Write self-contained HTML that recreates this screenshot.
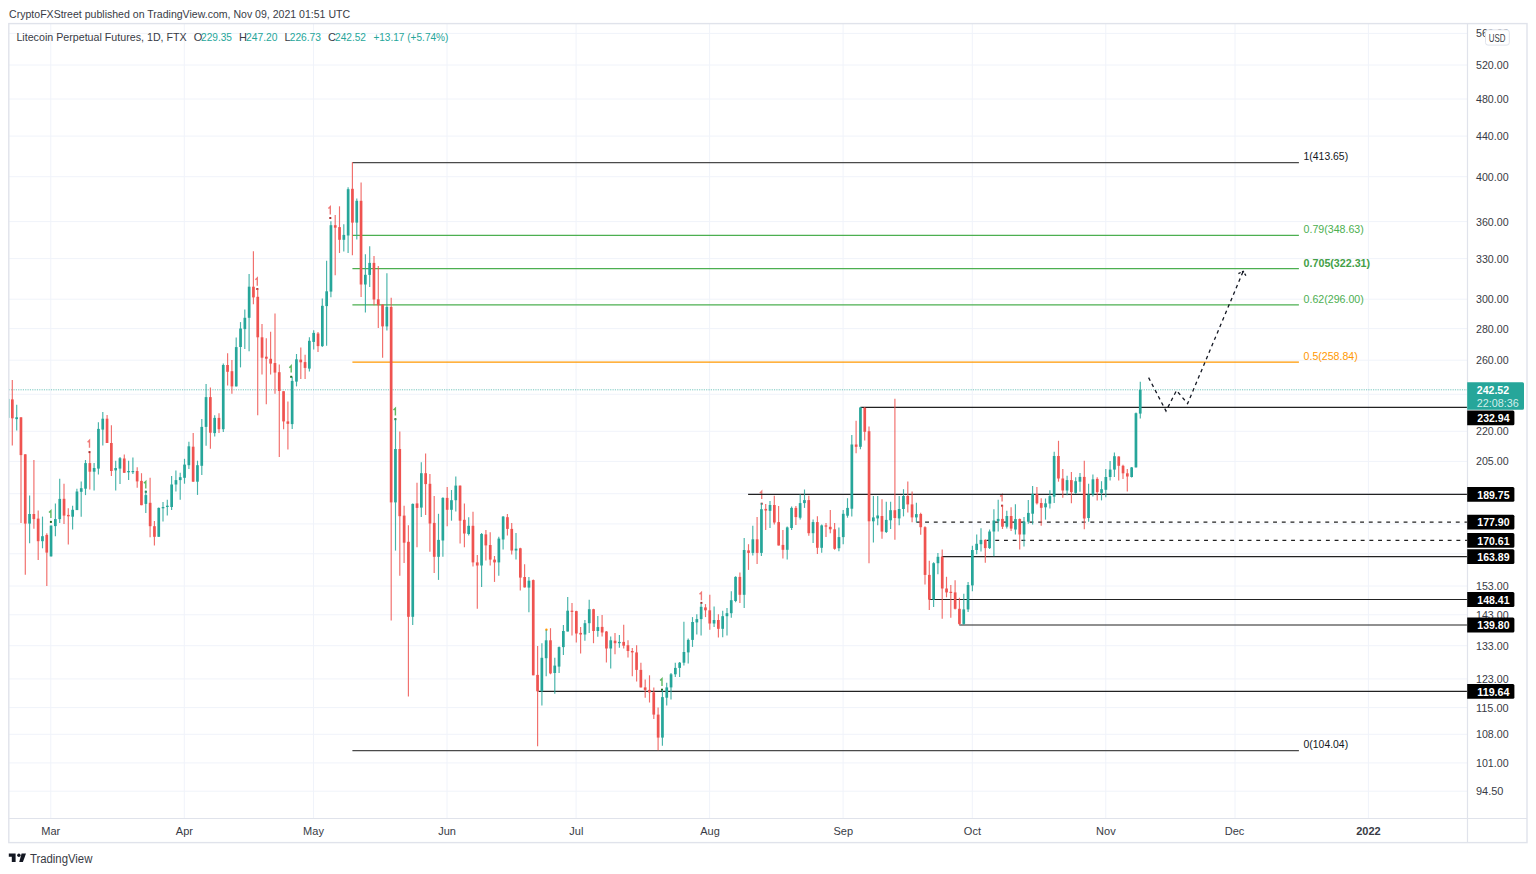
<!DOCTYPE html>
<html><head><meta charset="utf-8"><style>
html,body{margin:0;padding:0;background:#fff;width:1536px;height:874px;overflow:hidden;position:relative;font-family:"Liberation Sans", sans-serif;}
</style></head><body>
<svg width="1536" height="874" style="position:absolute;left:0;top:0" font-family='"Liberation Sans", sans-serif'><line x1="8.8" y1="33.4" x2="1467.5" y2="33.4" stroke="#f0f3fa" stroke-width="1"/><line x1="8.8" y1="65.0" x2="1467.5" y2="65.0" stroke="#f0f3fa" stroke-width="1"/><line x1="8.8" y1="99.0" x2="1467.5" y2="99.0" stroke="#f0f3fa" stroke-width="1"/><line x1="8.8" y1="136.1" x2="1467.5" y2="136.1" stroke="#f0f3fa" stroke-width="1"/><line x1="8.8" y1="176.7" x2="1467.5" y2="176.7" stroke="#f0f3fa" stroke-width="1"/><line x1="8.8" y1="221.6" x2="1467.5" y2="221.6" stroke="#f0f3fa" stroke-width="1"/><line x1="8.8" y1="258.6" x2="1467.5" y2="258.6" stroke="#f0f3fa" stroke-width="1"/><line x1="8.8" y1="299.2" x2="1467.5" y2="299.2" stroke="#f0f3fa" stroke-width="1"/><line x1="8.8" y1="328.6" x2="1467.5" y2="328.6" stroke="#f0f3fa" stroke-width="1"/><line x1="8.8" y1="360.2" x2="1467.5" y2="360.2" stroke="#f0f3fa" stroke-width="1"/><line x1="8.8" y1="394.3" x2="1467.5" y2="394.3" stroke="#f0f3fa" stroke-width="1"/><line x1="8.8" y1="431.3" x2="1467.5" y2="431.3" stroke="#f0f3fa" stroke-width="1"/><line x1="8.8" y1="461.4" x2="1467.5" y2="461.4" stroke="#f0f3fa" stroke-width="1"/><line x1="8.8" y1="493.7" x2="1467.5" y2="493.7" stroke="#f0f3fa" stroke-width="1"/><line x1="8.8" y1="523.9" x2="1467.5" y2="523.9" stroke="#f0f3fa" stroke-width="1"/><line x1="8.8" y1="553.8" x2="1467.5" y2="553.8" stroke="#f0f3fa" stroke-width="1"/><line x1="8.8" y1="586.0" x2="1467.5" y2="586.0" stroke="#f0f3fa" stroke-width="1"/><line x1="8.8" y1="614.8" x2="1467.5" y2="614.8" stroke="#f0f3fa" stroke-width="1"/><line x1="8.8" y1="645.7" x2="1467.5" y2="645.7" stroke="#f0f3fa" stroke-width="1"/><line x1="8.8" y1="678.9" x2="1467.5" y2="678.9" stroke="#f0f3fa" stroke-width="1"/><line x1="8.8" y1="707.6" x2="1467.5" y2="707.6" stroke="#f0f3fa" stroke-width="1"/><line x1="8.8" y1="734.3" x2="1467.5" y2="734.3" stroke="#f0f3fa" stroke-width="1"/><line x1="8.8" y1="762.9" x2="1467.5" y2="762.9" stroke="#f0f3fa" stroke-width="1"/><line x1="8.8" y1="791.2" x2="1467.5" y2="791.2" stroke="#f0f3fa" stroke-width="1"/><line x1="50.8" y1="23.6" x2="50.8" y2="818.5" stroke="#f0f3fa" stroke-width="1"/><line x1="184.3" y1="23.6" x2="184.3" y2="818.5" stroke="#f0f3fa" stroke-width="1"/><line x1="313.5" y1="23.6" x2="313.5" y2="818.5" stroke="#f0f3fa" stroke-width="1"/><line x1="447.0" y1="23.6" x2="447.0" y2="818.5" stroke="#f0f3fa" stroke-width="1"/><line x1="576.1" y1="23.6" x2="576.1" y2="818.5" stroke="#f0f3fa" stroke-width="1"/><line x1="709.6" y1="23.6" x2="709.6" y2="818.5" stroke="#f0f3fa" stroke-width="1"/><line x1="843.1" y1="23.6" x2="843.1" y2="818.5" stroke="#f0f3fa" stroke-width="1"/><line x1="972.3" y1="23.6" x2="972.3" y2="818.5" stroke="#f0f3fa" stroke-width="1"/><line x1="1105.8" y1="23.6" x2="1105.8" y2="818.5" stroke="#f0f3fa" stroke-width="1"/><line x1="1235.0" y1="23.6" x2="1235.0" y2="818.5" stroke="#f0f3fa" stroke-width="1"/><line x1="1368.4" y1="23.6" x2="1368.4" y2="818.5" stroke="#f0f3fa" stroke-width="1"/><line x1="8.8" y1="389.8" x2="1467.5" y2="389.8" stroke="#26a69a" stroke-width="1" stroke-dasharray="1.17 1.17" stroke-opacity="0.65"/><path d="M87.6 442.2 L89.5 440.3 V447.7" fill="none" stroke="#f07a78" stroke-width="1.4"/><rect x="88.5" y="451.1" width="2" height="2" fill="#a82a2a"/><path d="M255.4 279.8 L257.3 277.9 V285.7" fill="none" stroke="#f07a78" stroke-width="1.4"/><rect x="256.3" y="288.0" width="2" height="2" fill="#a82a2a"/><path d="M328.4 208.6 L330.3 206.7 V214.5" fill="none" stroke="#f07a78" stroke-width="1.4"/><rect x="329.3" y="217.0" width="2" height="2" fill="#a82a2a"/><path d="M699.5 594.3 L701.4 592.4 V600.2" fill="none" stroke="#f07a78" stroke-width="1.4"/><rect x="700.4" y="601.9" width="2" height="2" fill="#a82a2a"/><path d="M759.8 493.2 L761.7 491.3 V499.1" fill="none" stroke="#f07a78" stroke-width="1.4"/><rect x="760.7" y="502.7" width="2" height="2" fill="#a82a2a"/><path d="M1000.2 496.5 L1002.1 494.6 V501.5" fill="none" stroke="#f07a78" stroke-width="1.4"/><rect x="1001.1" y="504.7" width="2" height="2" fill="#a82a2a"/><path d="M49.0 512.6 L50.9 510.7 V518.1" fill="none" stroke="#5cb860" stroke-width="1.4"/><rect x="49.9" y="520.9" width="2" height="2" fill="#1b6b1f"/><path d="M143.9 483.3 L145.8 481.4 V488.5" fill="none" stroke="#5cb860" stroke-width="1.4"/><rect x="144.8" y="490.8" width="2" height="2" fill="#1b6b1f"/><path d="M289.3 367.7 L291.2 365.8 V372.6" fill="none" stroke="#5cb860" stroke-width="1.4"/><rect x="290.2" y="375.8" width="2" height="2" fill="#1b6b1f"/><path d="M393.5 410.1 L395.4 408.2 V415.5" fill="none" stroke="#5cb860" stroke-width="1.4"/><rect x="394.4" y="418.2" width="2" height="2" fill="#1b6b1f"/><path d="M660.1 680.5 L662.0 678.6 V686.0" fill="none" stroke="#5cb860" stroke-width="1.4"/><rect x="661.0" y="688.7" width="2" height="2" fill="#1b6b1f"/><circle cx="546.4" cy="629.8" r="1.2" fill="#ff9800"/><line x1="352.4" y1="162.55" x2="1298.9" y2="162.55" stroke="#4a4a4a" stroke-width="1.2"/><text x="1303.6" y="160.4" font-size="11" fill="#131722" textLength="44.5" lengthAdjust="spacingAndGlyphs">1(413.65)</text><line x1="352.4" y1="235.40" x2="1298.9" y2="235.40" stroke="#4caf50" stroke-width="1.2"/><text x="1303.6" y="233.2" font-size="11" fill="#4caf50" textLength="60.2" lengthAdjust="spacingAndGlyphs">0.79(348.63)</text><line x1="352.4" y1="268.66" x2="1298.9" y2="268.66" stroke="#4caf50" stroke-width="1.2"/><text x="1303.6" y="266.5" font-size="11" fill="#43a047" textLength="66.5" lengthAdjust="spacingAndGlyphs" font-weight="bold">0.705(322.31)</text><line x1="352.4" y1="304.93" x2="1298.9" y2="304.93" stroke="#4caf50" stroke-width="1.2"/><text x="1303.6" y="302.7" font-size="11" fill="#4caf50" textLength="60.2" lengthAdjust="spacingAndGlyphs">0.62(296.00)</text><line x1="352.4" y1="362.07" x2="1298.9" y2="362.07" stroke="#ff9800" stroke-width="1.2"/><text x="1303.6" y="359.9" font-size="11" fill="#ff9800" textLength="54.1" lengthAdjust="spacingAndGlyphs">0.5(258.84)</text><line x1="352.4" y1="750.55" x2="1298.9" y2="750.55" stroke="#4a4a4a" stroke-width="1.2"/><text x="1303.6" y="748.3" font-size="11" fill="#131722" textLength="44.5" lengthAdjust="spacingAndGlyphs">0(104.04)</text><line x1="860.4" y1="407.3" x2="1467.5" y2="407.3" stroke="#222" stroke-width="1.2"/><line x1="748.1" y1="494.4" x2="1467.5" y2="494.4" stroke="#222" stroke-width="1.2"/><line x1="916.4" y1="522.1" x2="1467.5" y2="522.1" stroke="#222" stroke-width="1.2" stroke-dasharray="3.9 4.8"/><line x1="986.6" y1="540.4" x2="1467.5" y2="540.4" stroke="#222" stroke-width="1.2" stroke-dasharray="3.9 4.8"/><line x1="941.8" y1="556.7" x2="1467.5" y2="556.7" stroke="#222" stroke-width="1.2"/><line x1="929.0" y1="599.5" x2="1467.5" y2="599.5" stroke="#222" stroke-width="1.2"/><line x1="959.3" y1="625.0" x2="1467.5" y2="625.0" stroke="#222" stroke-width="1.2"/><line x1="538.5" y1="691.4" x2="1467.5" y2="691.4" stroke="#222" stroke-width="1.2"/><polyline points="1148.6,377.6 1166.0,411.0 1176.5,390.5 1187.6,403.6 1243.2,271.3" fill="none" stroke="#131722" stroke-width="1.3" stroke-dasharray="3.5 3.5"/><polyline points="1238.4,273.6 1243.2,271.3 1246.6,276.8" fill="none" stroke="#131722" stroke-width="1.3" stroke-dasharray="2.5 1.5"/><rect x="8.6" y="398.9" width="1.3" height="19" fill="#26a69a" fill-opacity="0.6"/><line x1="12.3" y1="380.0" x2="12.3" y2="445.5" stroke="#ef5350" stroke-width="1.15" stroke-opacity="0.85"/><rect x="11.0" y="399.4" width="2.7" height="18.9" fill="#ef5350"/><line x1="16.7" y1="404.7" x2="16.7" y2="430.4" stroke="#26a69a" stroke-width="1.15" stroke-opacity="0.85"/><rect x="15.3" y="417.3" width="2.7" height="1.8" fill="#26a69a"/><line x1="21.0" y1="417.3" x2="21.0" y2="523.1" stroke="#ef5350" stroke-width="1.15" stroke-opacity="0.85"/><rect x="19.6" y="417.3" width="2.7" height="37.8" fill="#ef5350"/><line x1="25.3" y1="454.3" x2="25.3" y2="574.7" stroke="#ef5350" stroke-width="1.15" stroke-opacity="0.85"/><rect x="23.9" y="454.3" width="2.7" height="69.3" fill="#ef5350"/><line x1="29.6" y1="495.4" x2="29.6" y2="543.3" stroke="#26a69a" stroke-width="1.15" stroke-opacity="0.85"/><rect x="28.2" y="514.0" width="2.7" height="9.6" fill="#26a69a"/><line x1="33.9" y1="460.1" x2="33.9" y2="528.7" stroke="#ef5350" stroke-width="1.15" stroke-opacity="0.85"/><rect x="32.5" y="514.0" width="2.7" height="5.1" fill="#ef5350"/><line x1="38.2" y1="510.5" x2="38.2" y2="560.1" stroke="#ef5350" stroke-width="1.15" stroke-opacity="0.85"/><rect x="36.8" y="518.6" width="2.7" height="22.6" fill="#ef5350"/><line x1="42.5" y1="516.6" x2="42.5" y2="548.3" stroke="#26a69a" stroke-width="1.15" stroke-opacity="0.85"/><rect x="41.1" y="536.2" width="2.7" height="5.0" fill="#26a69a"/><line x1="46.8" y1="533.2" x2="46.8" y2="586.1" stroke="#ef5350" stroke-width="1.15" stroke-opacity="0.85"/><rect x="45.4" y="534.9" width="2.7" height="17.7" fill="#ef5350"/><line x1="51.1" y1="525.6" x2="51.1" y2="556.4" stroke="#26a69a" stroke-width="1.15" stroke-opacity="0.85"/><rect x="49.7" y="525.6" width="2.7" height="30.8" fill="#26a69a"/><line x1="55.4" y1="503.5" x2="55.4" y2="536.2" stroke="#26a69a" stroke-width="1.15" stroke-opacity="0.85"/><rect x="54.0" y="519.1" width="2.7" height="7.0" fill="#26a69a"/><line x1="59.7" y1="478.8" x2="59.7" y2="523.1" stroke="#26a69a" stroke-width="1.15" stroke-opacity="0.85"/><rect x="58.4" y="498.9" width="2.7" height="20.2" fill="#26a69a"/><line x1="64.0" y1="483.8" x2="64.0" y2="524.0" stroke="#ef5350" stroke-width="1.15" stroke-opacity="0.85"/><rect x="62.7" y="498.8" width="2.7" height="16.8" fill="#ef5350"/><line x1="68.3" y1="508.3" x2="68.3" y2="544.5" stroke="#ef5350" stroke-width="1.15" stroke-opacity="0.85"/><rect x="67.0" y="514.9" width="2.7" height="1.4" fill="#ef5350"/><line x1="72.6" y1="505.7" x2="72.6" y2="529.5" stroke="#26a69a" stroke-width="1.15" stroke-opacity="0.85"/><rect x="71.3" y="509.8" width="2.7" height="6.9" fill="#26a69a"/><line x1="76.9" y1="488.7" x2="76.9" y2="510.1" stroke="#26a69a" stroke-width="1.15" stroke-opacity="0.85"/><rect x="75.6" y="491.5" width="2.7" height="18.6" fill="#26a69a"/><line x1="81.2" y1="481.4" x2="81.2" y2="516.7" stroke="#26a69a" stroke-width="1.15" stroke-opacity="0.85"/><rect x="79.9" y="488.2" width="2.7" height="3.6" fill="#26a69a"/><line x1="85.5" y1="460.0" x2="85.5" y2="495.1" stroke="#26a69a" stroke-width="1.15" stroke-opacity="0.85"/><rect x="84.2" y="463.1" width="2.7" height="25.6" fill="#26a69a"/><line x1="89.8" y1="453.0" x2="89.8" y2="489.6" stroke="#ef5350" stroke-width="1.15" stroke-opacity="0.85"/><rect x="88.5" y="463.1" width="2.7" height="8.6" fill="#ef5350"/><line x1="94.1" y1="463.1" x2="94.1" y2="490.5" stroke="#26a69a" stroke-width="1.15" stroke-opacity="0.85"/><rect x="92.8" y="468.0" width="2.7" height="3.7" fill="#26a69a"/><line x1="98.4" y1="422.3" x2="98.4" y2="474.6" stroke="#26a69a" stroke-width="1.15" stroke-opacity="0.85"/><rect x="97.1" y="428.9" width="2.7" height="39.7" fill="#26a69a"/><line x1="102.8" y1="411.9" x2="102.8" y2="445.4" stroke="#26a69a" stroke-width="1.15" stroke-opacity="0.85"/><rect x="101.4" y="418.7" width="2.7" height="10.9" fill="#26a69a"/><line x1="107.1" y1="415.0" x2="107.1" y2="443.0" stroke="#ef5350" stroke-width="1.15" stroke-opacity="0.85"/><rect x="105.7" y="418.7" width="2.7" height="24.3" fill="#ef5350"/><line x1="111.4" y1="425.2" x2="111.4" y2="475.9" stroke="#ef5350" stroke-width="1.15" stroke-opacity="0.85"/><rect x="110.0" y="443.0" width="2.7" height="28.0" fill="#ef5350"/><line x1="115.7" y1="460.7" x2="115.7" y2="490.5" stroke="#26a69a" stroke-width="1.15" stroke-opacity="0.85"/><rect x="114.3" y="468.0" width="2.7" height="2.4" fill="#26a69a"/><line x1="120.0" y1="457.1" x2="120.0" y2="484.1" stroke="#26a69a" stroke-width="1.15" stroke-opacity="0.85"/><rect x="118.6" y="458.2" width="2.7" height="10.4" fill="#26a69a"/><line x1="124.3" y1="454.5" x2="124.3" y2="472.8" stroke="#ef5350" stroke-width="1.15" stroke-opacity="0.85"/><rect x="122.9" y="458.5" width="2.7" height="14.3" fill="#ef5350"/><line x1="128.6" y1="460.7" x2="128.6" y2="480.1" stroke="#26a69a" stroke-width="1.15" stroke-opacity="0.85"/><rect x="127.2" y="471.0" width="2.7" height="1.3" fill="#26a69a"/><line x1="132.9" y1="457.6" x2="132.9" y2="474.1" stroke="#26a69a" stroke-width="1.15" stroke-opacity="0.85"/><rect x="131.5" y="471.0" width="2.7" height="1.2" fill="#26a69a"/><line x1="137.2" y1="467.3" x2="137.2" y2="487.8" stroke="#ef5350" stroke-width="1.15" stroke-opacity="0.85"/><rect x="135.8" y="471.0" width="2.7" height="10.4" fill="#ef5350"/><line x1="141.5" y1="473.2" x2="141.5" y2="505.2" stroke="#ef5350" stroke-width="1.15" stroke-opacity="0.85"/><rect x="140.1" y="480.9" width="2.7" height="24.3" fill="#ef5350"/><line x1="145.8" y1="490.5" x2="145.8" y2="513.0" stroke="#26a69a" stroke-width="1.15" stroke-opacity="0.85"/><rect x="144.5" y="495.1" width="2.7" height="8.8" fill="#26a69a"/><line x1="150.1" y1="477.7" x2="150.1" y2="537.2" stroke="#ef5350" stroke-width="1.15" stroke-opacity="0.85"/><rect x="148.8" y="502.8" width="2.7" height="23.4" fill="#ef5350"/><line x1="154.4" y1="521.1" x2="154.4" y2="545.4" stroke="#ef5350" stroke-width="1.15" stroke-opacity="0.85"/><rect x="153.1" y="526.2" width="2.7" height="10.6" fill="#ef5350"/><line x1="158.7" y1="507.6" x2="158.7" y2="536.8" stroke="#26a69a" stroke-width="1.15" stroke-opacity="0.85"/><rect x="157.4" y="507.9" width="2.7" height="28.9" fill="#26a69a"/><line x1="163.0" y1="502.1" x2="163.0" y2="521.6" stroke="#26a69a" stroke-width="1.15" stroke-opacity="0.85"/><rect x="161.7" y="507.0" width="2.7" height="1.3" fill="#26a69a"/><line x1="167.3" y1="499.7" x2="167.3" y2="515.6" stroke="#26a69a" stroke-width="1.15" stroke-opacity="0.85"/><rect x="166.0" y="505.7" width="2.7" height="1.3" fill="#26a69a"/><line x1="171.6" y1="475.9" x2="171.6" y2="510.1" stroke="#26a69a" stroke-width="1.15" stroke-opacity="0.85"/><rect x="170.3" y="484.5" width="2.7" height="22.5" fill="#26a69a"/><line x1="175.9" y1="470.4" x2="175.9" y2="491.5" stroke="#26a69a" stroke-width="1.15" stroke-opacity="0.85"/><rect x="174.6" y="480.1" width="2.7" height="4.4" fill="#26a69a"/><line x1="180.2" y1="472.8" x2="180.2" y2="499.7" stroke="#26a69a" stroke-width="1.15" stroke-opacity="0.85"/><rect x="178.9" y="477.2" width="2.7" height="2.9" fill="#26a69a"/><line x1="184.5" y1="458.8" x2="184.5" y2="483.7" stroke="#26a69a" stroke-width="1.15" stroke-opacity="0.85"/><rect x="183.2" y="464.6" width="2.7" height="13.2" fill="#26a69a"/><line x1="188.9" y1="441.8" x2="188.9" y2="469.1" stroke="#26a69a" stroke-width="1.15" stroke-opacity="0.85"/><rect x="187.5" y="446.3" width="2.7" height="18.9" fill="#26a69a"/><line x1="193.2" y1="433.1" x2="193.2" y2="481.7" stroke="#ef5350" stroke-width="1.15" stroke-opacity="0.85"/><rect x="191.8" y="446.7" width="2.7" height="35.0" fill="#ef5350"/><line x1="197.5" y1="460.7" x2="197.5" y2="494.9" stroke="#26a69a" stroke-width="1.15" stroke-opacity="0.85"/><rect x="196.1" y="465.2" width="2.7" height="16.5" fill="#26a69a"/><line x1="201.8" y1="419.1" x2="201.8" y2="474.9" stroke="#26a69a" stroke-width="1.15" stroke-opacity="0.85"/><rect x="200.4" y="426.9" width="2.7" height="38.9" fill="#26a69a"/><line x1="206.1" y1="384.1" x2="206.1" y2="445.7" stroke="#26a69a" stroke-width="1.15" stroke-opacity="0.85"/><rect x="204.7" y="397.1" width="2.7" height="29.8" fill="#26a69a"/><line x1="210.4" y1="387.4" x2="210.4" y2="448.7" stroke="#ef5350" stroke-width="1.15" stroke-opacity="0.85"/><rect x="209.0" y="397.1" width="2.7" height="35.6" fill="#ef5350"/><line x1="214.7" y1="415.2" x2="214.7" y2="436.6" stroke="#26a69a" stroke-width="1.15" stroke-opacity="0.85"/><rect x="213.3" y="417.9" width="2.7" height="15.2" fill="#26a69a"/><line x1="219.0" y1="413.3" x2="219.0" y2="433.1" stroke="#ef5350" stroke-width="1.15" stroke-opacity="0.85"/><rect x="217.6" y="417.9" width="2.7" height="11.3" fill="#ef5350"/><line x1="223.3" y1="363.5" x2="223.3" y2="432.1" stroke="#26a69a" stroke-width="1.15" stroke-opacity="0.85"/><rect x="221.9" y="365.0" width="2.7" height="64.2" fill="#26a69a"/><line x1="227.6" y1="353.3" x2="227.6" y2="385.4" stroke="#ef5350" stroke-width="1.15" stroke-opacity="0.85"/><rect x="226.2" y="365.0" width="2.7" height="6.8" fill="#ef5350"/><line x1="231.9" y1="360.1" x2="231.9" y2="393.8" stroke="#ef5350" stroke-width="1.15" stroke-opacity="0.85"/><rect x="230.6" y="371.2" width="2.7" height="15.2" fill="#ef5350"/><line x1="236.2" y1="337.4" x2="236.2" y2="386.4" stroke="#26a69a" stroke-width="1.15" stroke-opacity="0.85"/><rect x="234.9" y="347.1" width="2.7" height="39.3" fill="#26a69a"/><line x1="240.5" y1="322.1" x2="240.5" y2="367.4" stroke="#26a69a" stroke-width="1.15" stroke-opacity="0.85"/><rect x="239.2" y="328.5" width="2.7" height="18.5" fill="#26a69a"/><line x1="244.8" y1="309.6" x2="244.8" y2="348.9" stroke="#26a69a" stroke-width="1.15" stroke-opacity="0.85"/><rect x="243.5" y="317.8" width="2.7" height="11.3" fill="#26a69a"/><line x1="249.1" y1="274.0" x2="249.1" y2="351.3" stroke="#26a69a" stroke-width="1.15" stroke-opacity="0.85"/><rect x="247.8" y="286.7" width="2.7" height="31.1" fill="#26a69a"/><line x1="253.4" y1="251.3" x2="253.4" y2="304.2" stroke="#ef5350" stroke-width="1.15" stroke-opacity="0.85"/><rect x="252.1" y="286.7" width="2.7" height="10.7" fill="#ef5350"/><line x1="257.7" y1="288.6" x2="257.7" y2="415.2" stroke="#ef5350" stroke-width="1.15" stroke-opacity="0.85"/><rect x="256.4" y="296.8" width="2.7" height="40.5" fill="#ef5350"/><line x1="262.0" y1="324.0" x2="262.0" y2="374.5" stroke="#ef5350" stroke-width="1.15" stroke-opacity="0.85"/><rect x="260.7" y="337.3" width="2.7" height="20.4" fill="#ef5350"/><line x1="266.3" y1="338.2" x2="266.3" y2="404.3" stroke="#ef5350" stroke-width="1.15" stroke-opacity="0.85"/><rect x="265.0" y="356.7" width="2.7" height="2.0" fill="#ef5350"/><line x1="270.6" y1="331.8" x2="270.6" y2="374.5" stroke="#ef5350" stroke-width="1.15" stroke-opacity="0.85"/><rect x="269.3" y="358.8" width="2.7" height="4.8" fill="#ef5350"/><line x1="275.0" y1="313.5" x2="275.0" y2="393.8" stroke="#ef5350" stroke-width="1.15" stroke-opacity="0.85"/><rect x="273.6" y="363.0" width="2.7" height="9.6" fill="#ef5350"/><line x1="279.3" y1="364.4" x2="279.3" y2="457.1" stroke="#ef5350" stroke-width="1.15" stroke-opacity="0.85"/><rect x="277.9" y="372.2" width="2.7" height="18.8" fill="#ef5350"/><line x1="283.6" y1="391.2" x2="283.6" y2="429.3" stroke="#ef5350" stroke-width="1.15" stroke-opacity="0.85"/><rect x="282.2" y="391.2" width="2.7" height="30.2" fill="#ef5350"/><line x1="287.9" y1="401.5" x2="287.9" y2="449.5" stroke="#ef5350" stroke-width="1.15" stroke-opacity="0.85"/><rect x="286.5" y="421.4" width="2.7" height="2.4" fill="#ef5350"/><line x1="292.2" y1="376.8" x2="292.2" y2="428.9" stroke="#26a69a" stroke-width="1.15" stroke-opacity="0.85"/><rect x="290.8" y="380.9" width="2.7" height="43.2" fill="#26a69a"/><line x1="296.5" y1="354.0" x2="296.5" y2="386.4" stroke="#26a69a" stroke-width="1.15" stroke-opacity="0.85"/><rect x="295.1" y="359.3" width="2.7" height="22.3" fill="#26a69a"/><line x1="300.8" y1="347.4" x2="300.8" y2="378.9" stroke="#ef5350" stroke-width="1.15" stroke-opacity="0.85"/><rect x="299.4" y="359.6" width="2.7" height="2.7" fill="#ef5350"/><line x1="305.1" y1="354.8" x2="305.1" y2="378.9" stroke="#ef5350" stroke-width="1.15" stroke-opacity="0.85"/><rect x="303.7" y="362.1" width="2.7" height="5.8" fill="#ef5350"/><line x1="309.4" y1="337.3" x2="309.4" y2="371.5" stroke="#26a69a" stroke-width="1.15" stroke-opacity="0.85"/><rect x="308.0" y="340.8" width="2.7" height="27.8" fill="#26a69a"/><line x1="313.7" y1="330.2" x2="313.7" y2="349.6" stroke="#26a69a" stroke-width="1.15" stroke-opacity="0.85"/><rect x="312.3" y="332.9" width="2.7" height="9.0" fill="#26a69a"/><line x1="318.0" y1="332.1" x2="318.0" y2="352.0" stroke="#ef5350" stroke-width="1.15" stroke-opacity="0.85"/><rect x="316.7" y="333.5" width="2.7" height="12.6" fill="#ef5350"/><line x1="322.3" y1="298.5" x2="322.3" y2="347.1" stroke="#26a69a" stroke-width="1.15" stroke-opacity="0.85"/><rect x="321.0" y="305.8" width="2.7" height="40.3" fill="#26a69a"/><line x1="326.6" y1="260.8" x2="326.6" y2="345.7" stroke="#26a69a" stroke-width="1.15" stroke-opacity="0.85"/><rect x="325.3" y="291.3" width="2.7" height="14.8" fill="#26a69a"/><line x1="330.9" y1="221.3" x2="330.9" y2="297.3" stroke="#26a69a" stroke-width="1.15" stroke-opacity="0.85"/><rect x="329.6" y="225.2" width="2.7" height="66.4" fill="#26a69a"/><line x1="335.2" y1="214.9" x2="335.2" y2="275.2" stroke="#ef5350" stroke-width="1.15" stroke-opacity="0.85"/><rect x="333.9" y="225.2" width="2.7" height="2.5" fill="#ef5350"/><line x1="339.5" y1="206.3" x2="339.5" y2="253.0" stroke="#ef5350" stroke-width="1.15" stroke-opacity="0.85"/><rect x="338.2" y="227.1" width="2.7" height="12.7" fill="#ef5350"/><line x1="343.8" y1="224.2" x2="343.8" y2="251.4" stroke="#26a69a" stroke-width="1.15" stroke-opacity="0.85"/><rect x="342.5" y="234.9" width="2.7" height="4.9" fill="#26a69a"/><line x1="348.1" y1="187.2" x2="348.1" y2="253.0" stroke="#26a69a" stroke-width="1.15" stroke-opacity="0.85"/><rect x="346.8" y="189.2" width="2.7" height="46.3" fill="#26a69a"/><line x1="352.4" y1="162.3" x2="352.4" y2="255.3" stroke="#ef5350" stroke-width="1.15" stroke-opacity="0.85"/><rect x="351.1" y="188.8" width="2.7" height="33.8" fill="#ef5350"/><line x1="356.8" y1="198.5" x2="356.8" y2="239.4" stroke="#26a69a" stroke-width="1.15" stroke-opacity="0.85"/><rect x="355.4" y="200.8" width="2.7" height="21.8" fill="#26a69a"/><line x1="361.1" y1="182.4" x2="361.1" y2="297.1" stroke="#ef5350" stroke-width="1.15" stroke-opacity="0.85"/><rect x="359.7" y="200.8" width="2.7" height="83.7" fill="#ef5350"/><line x1="365.4" y1="254.3" x2="365.4" y2="312.4" stroke="#26a69a" stroke-width="1.15" stroke-opacity="0.85"/><rect x="364.0" y="274.8" width="2.7" height="9.7" fill="#26a69a"/><line x1="369.7" y1="246.3" x2="369.7" y2="286.9" stroke="#26a69a" stroke-width="1.15" stroke-opacity="0.85"/><rect x="368.3" y="262.9" width="2.7" height="12.0" fill="#26a69a"/><line x1="374.0" y1="256.0" x2="374.0" y2="305.2" stroke="#ef5350" stroke-width="1.15" stroke-opacity="0.85"/><rect x="372.6" y="262.9" width="2.7" height="36.6" fill="#ef5350"/><line x1="378.3" y1="266.1" x2="378.3" y2="328.1" stroke="#ef5350" stroke-width="1.15" stroke-opacity="0.85"/><rect x="376.9" y="299.3" width="2.7" height="5.9" fill="#ef5350"/><line x1="382.6" y1="304.3" x2="382.6" y2="357.8" stroke="#ef5350" stroke-width="1.15" stroke-opacity="0.85"/><rect x="381.2" y="304.6" width="2.7" height="21.8" fill="#ef5350"/><line x1="386.9" y1="273.2" x2="386.9" y2="330.4" stroke="#26a69a" stroke-width="1.15" stroke-opacity="0.85"/><rect x="385.5" y="306.9" width="2.7" height="19.5" fill="#26a69a"/><line x1="391.2" y1="297.8" x2="391.2" y2="620.5" stroke="#ef5350" stroke-width="1.15" stroke-opacity="0.85"/><rect x="389.8" y="306.9" width="2.7" height="195.5" fill="#ef5350"/><line x1="395.5" y1="419.2" x2="395.5" y2="550.6" stroke="#26a69a" stroke-width="1.15" stroke-opacity="0.85"/><rect x="394.1" y="449.0" width="2.7" height="53.4" fill="#26a69a"/><line x1="399.8" y1="431.5" x2="399.8" y2="575.7" stroke="#ef5350" stroke-width="1.15" stroke-opacity="0.85"/><rect x="398.4" y="449.0" width="2.7" height="67.2" fill="#ef5350"/><line x1="404.1" y1="505.7" x2="404.1" y2="562.9" stroke="#ef5350" stroke-width="1.15" stroke-opacity="0.85"/><rect x="402.8" y="515.6" width="2.7" height="27.1" fill="#ef5350"/><line x1="408.4" y1="525.3" x2="408.4" y2="696.4" stroke="#ef5350" stroke-width="1.15" stroke-opacity="0.85"/><rect x="407.1" y="541.8" width="2.7" height="75.0" fill="#ef5350"/><line x1="412.7" y1="503.4" x2="412.7" y2="625.1" stroke="#26a69a" stroke-width="1.15" stroke-opacity="0.85"/><rect x="411.4" y="503.9" width="2.7" height="112.9" fill="#26a69a"/><line x1="417.0" y1="482.7" x2="417.0" y2="547.2" stroke="#ef5350" stroke-width="1.15" stroke-opacity="0.85"/><rect x="415.7" y="503.4" width="2.7" height="4.5" fill="#ef5350"/><line x1="421.3" y1="462.2" x2="421.3" y2="517.1" stroke="#26a69a" stroke-width="1.15" stroke-opacity="0.85"/><rect x="420.0" y="473.2" width="2.7" height="34.4" fill="#26a69a"/><line x1="425.6" y1="453.4" x2="425.6" y2="514.9" stroke="#ef5350" stroke-width="1.15" stroke-opacity="0.85"/><rect x="424.3" y="473.2" width="2.7" height="10.9" fill="#ef5350"/><line x1="429.9" y1="474.1" x2="429.9" y2="551.8" stroke="#ef5350" stroke-width="1.15" stroke-opacity="0.85"/><rect x="428.6" y="483.8" width="2.7" height="39.7" fill="#ef5350"/><line x1="434.2" y1="496.0" x2="434.2" y2="572.9" stroke="#ef5350" stroke-width="1.15" stroke-opacity="0.85"/><rect x="432.9" y="522.9" width="2.7" height="33.9" fill="#ef5350"/><line x1="438.5" y1="513.8" x2="438.5" y2="579.9" stroke="#26a69a" stroke-width="1.15" stroke-opacity="0.85"/><rect x="437.2" y="539.9" width="2.7" height="16.9" fill="#26a69a"/><line x1="442.9" y1="497.3" x2="442.9" y2="556.8" stroke="#26a69a" stroke-width="1.15" stroke-opacity="0.85"/><rect x="441.5" y="497.9" width="2.7" height="42.6" fill="#26a69a"/><line x1="447.2" y1="486.9" x2="447.2" y2="526.2" stroke="#ef5350" stroke-width="1.15" stroke-opacity="0.85"/><rect x="445.8" y="497.9" width="2.7" height="11.9" fill="#ef5350"/><line x1="451.5" y1="490.0" x2="451.5" y2="520.7" stroke="#26a69a" stroke-width="1.15" stroke-opacity="0.85"/><rect x="450.1" y="500.2" width="2.7" height="9.6" fill="#26a69a"/><line x1="455.8" y1="476.5" x2="455.8" y2="511.6" stroke="#26a69a" stroke-width="1.15" stroke-opacity="0.85"/><rect x="454.4" y="485.6" width="2.7" height="14.6" fill="#26a69a"/><line x1="460.1" y1="485.6" x2="460.1" y2="543.6" stroke="#ef5350" stroke-width="1.15" stroke-opacity="0.85"/><rect x="458.7" y="485.6" width="2.7" height="35.1" fill="#ef5350"/><line x1="464.4" y1="503.4" x2="464.4" y2="547.3" stroke="#ef5350" stroke-width="1.15" stroke-opacity="0.85"/><rect x="463.0" y="519.8" width="2.7" height="13.7" fill="#ef5350"/><line x1="468.7" y1="517.2" x2="468.7" y2="535.5" stroke="#26a69a" stroke-width="1.15" stroke-opacity="0.85"/><rect x="467.3" y="525.8" width="2.7" height="8.2" fill="#26a69a"/><line x1="473.0" y1="511.7" x2="473.0" y2="566.6" stroke="#ef5350" stroke-width="1.15" stroke-opacity="0.85"/><rect x="471.6" y="525.8" width="2.7" height="36.6" fill="#ef5350"/><line x1="477.3" y1="555.1" x2="477.3" y2="608.7" stroke="#ef5350" stroke-width="1.15" stroke-opacity="0.85"/><rect x="475.9" y="562.4" width="2.7" height="3.1" fill="#ef5350"/><line x1="481.6" y1="533.1" x2="481.6" y2="587.1" stroke="#26a69a" stroke-width="1.15" stroke-opacity="0.85"/><rect x="480.2" y="534.0" width="2.7" height="31.5" fill="#26a69a"/><line x1="485.9" y1="530.0" x2="485.9" y2="560.5" stroke="#ef5350" stroke-width="1.15" stroke-opacity="0.85"/><rect x="484.5" y="534.4" width="2.7" height="11.0" fill="#ef5350"/><line x1="490.2" y1="532.2" x2="490.2" y2="565.5" stroke="#ef5350" stroke-width="1.15" stroke-opacity="0.85"/><rect x="488.9" y="545.0" width="2.7" height="14.6" fill="#ef5350"/><line x1="494.5" y1="556.0" x2="494.5" y2="581.9" stroke="#ef5350" stroke-width="1.15" stroke-opacity="0.85"/><rect x="493.2" y="559.6" width="2.7" height="2.8" fill="#ef5350"/><line x1="498.8" y1="536.8" x2="498.8" y2="575.7" stroke="#26a69a" stroke-width="1.15" stroke-opacity="0.85"/><rect x="497.5" y="538.6" width="2.7" height="23.8" fill="#26a69a"/><line x1="503.1" y1="516.1" x2="503.1" y2="549.6" stroke="#26a69a" stroke-width="1.15" stroke-opacity="0.85"/><rect x="501.8" y="516.6" width="2.7" height="22.9" fill="#26a69a"/><line x1="507.4" y1="513.9" x2="507.4" y2="535.5" stroke="#ef5350" stroke-width="1.15" stroke-opacity="0.85"/><rect x="506.1" y="517.2" width="2.7" height="11.7" fill="#ef5350"/><line x1="511.7" y1="523.0" x2="511.7" y2="554.5" stroke="#ef5350" stroke-width="1.15" stroke-opacity="0.85"/><rect x="510.4" y="528.9" width="2.7" height="21.6" fill="#ef5350"/><line x1="516.0" y1="533.1" x2="516.0" y2="559.6" stroke="#26a69a" stroke-width="1.15" stroke-opacity="0.85"/><rect x="514.7" y="548.7" width="2.7" height="1.8" fill="#26a69a"/><line x1="520.3" y1="547.7" x2="520.3" y2="590.4" stroke="#ef5350" stroke-width="1.15" stroke-opacity="0.85"/><rect x="519.0" y="548.3" width="2.7" height="29.3" fill="#ef5350"/><line x1="524.6" y1="564.2" x2="524.6" y2="587.4" stroke="#ef5350" stroke-width="1.15" stroke-opacity="0.85"/><rect x="523.3" y="577.0" width="2.7" height="10.4" fill="#ef5350"/><line x1="528.9" y1="577.0" x2="528.9" y2="612.2" stroke="#26a69a" stroke-width="1.15" stroke-opacity="0.85"/><rect x="527.6" y="580.7" width="2.7" height="6.9" fill="#26a69a"/><line x1="533.3" y1="579.4" x2="533.3" y2="675.3" stroke="#ef5350" stroke-width="1.15" stroke-opacity="0.85"/><rect x="531.9" y="580.1" width="2.7" height="95.2" fill="#ef5350"/><line x1="537.6" y1="646.1" x2="537.6" y2="746.3" stroke="#ef5350" stroke-width="1.15" stroke-opacity="0.85"/><rect x="536.2" y="674.9" width="2.7" height="16.4" fill="#ef5350"/><line x1="541.9" y1="643.2" x2="541.9" y2="705.5" stroke="#26a69a" stroke-width="1.15" stroke-opacity="0.85"/><rect x="540.5" y="657.8" width="2.7" height="33.5" fill="#26a69a"/><line x1="546.2" y1="630.2" x2="546.2" y2="676.3" stroke="#26a69a" stroke-width="1.15" stroke-opacity="0.85"/><rect x="544.8" y="640.3" width="2.7" height="17.9" fill="#26a69a"/><line x1="550.5" y1="628.2" x2="550.5" y2="674.3" stroke="#ef5350" stroke-width="1.15" stroke-opacity="0.85"/><rect x="549.1" y="640.3" width="2.7" height="33.1" fill="#ef5350"/><line x1="554.8" y1="657.8" x2="554.8" y2="693.8" stroke="#26a69a" stroke-width="1.15" stroke-opacity="0.85"/><rect x="553.4" y="665.6" width="2.7" height="7.4" fill="#26a69a"/><line x1="559.1" y1="646.5" x2="559.1" y2="673.0" stroke="#26a69a" stroke-width="1.15" stroke-opacity="0.85"/><rect x="557.7" y="647.1" width="2.7" height="19.5" fill="#26a69a"/><line x1="563.4" y1="625.1" x2="563.4" y2="654.9" stroke="#26a69a" stroke-width="1.15" stroke-opacity="0.85"/><rect x="562.0" y="631.0" width="2.7" height="16.1" fill="#26a69a"/><line x1="567.7" y1="597.1" x2="567.7" y2="631.5" stroke="#26a69a" stroke-width="1.15" stroke-opacity="0.85"/><rect x="566.3" y="610.7" width="2.7" height="20.8" fill="#26a69a"/><line x1="572.0" y1="603.0" x2="572.0" y2="635.4" stroke="#ef5350" stroke-width="1.15" stroke-opacity="0.85"/><rect x="570.6" y="610.7" width="2.7" height="1.2" fill="#ef5350"/><line x1="576.3" y1="610.7" x2="576.3" y2="642.6" stroke="#ef5350" stroke-width="1.15" stroke-opacity="0.85"/><rect x="575.0" y="611.1" width="2.7" height="22.4" fill="#ef5350"/><line x1="580.6" y1="627.1" x2="580.6" y2="653.5" stroke="#ef5350" stroke-width="1.15" stroke-opacity="0.85"/><rect x="579.3" y="632.9" width="2.7" height="1.6" fill="#ef5350"/><line x1="584.9" y1="619.9" x2="584.9" y2="640.7" stroke="#26a69a" stroke-width="1.15" stroke-opacity="0.85"/><rect x="583.6" y="623.2" width="2.7" height="11.3" fill="#26a69a"/><line x1="589.2" y1="599.8" x2="589.2" y2="632.9" stroke="#26a69a" stroke-width="1.15" stroke-opacity="0.85"/><rect x="587.9" y="609.2" width="2.7" height="14.0" fill="#26a69a"/><line x1="593.5" y1="608.8" x2="593.5" y2="643.2" stroke="#ef5350" stroke-width="1.15" stroke-opacity="0.85"/><rect x="592.2" y="609.2" width="2.7" height="21.8" fill="#ef5350"/><line x1="597.8" y1="616.0" x2="597.8" y2="636.8" stroke="#26a69a" stroke-width="1.15" stroke-opacity="0.85"/><rect x="596.5" y="627.1" width="2.7" height="3.9" fill="#26a69a"/><line x1="602.1" y1="615.0" x2="602.1" y2="636.4" stroke="#ef5350" stroke-width="1.15" stroke-opacity="0.85"/><rect x="600.8" y="626.9" width="2.7" height="5.6" fill="#ef5350"/><line x1="606.4" y1="631.0" x2="606.4" y2="662.4" stroke="#ef5350" stroke-width="1.15" stroke-opacity="0.85"/><rect x="605.1" y="631.5" width="2.7" height="17.0" fill="#ef5350"/><line x1="610.7" y1="636.4" x2="610.7" y2="668.5" stroke="#26a69a" stroke-width="1.15" stroke-opacity="0.85"/><rect x="609.4" y="640.3" width="2.7" height="8.2" fill="#26a69a"/><line x1="615.0" y1="632.9" x2="615.0" y2="654.3" stroke="#ef5350" stroke-width="1.15" stroke-opacity="0.85"/><rect x="613.7" y="640.7" width="2.7" height="2.5" fill="#ef5350"/><line x1="619.4" y1="634.9" x2="619.4" y2="647.7" stroke="#26a69a" stroke-width="1.15" stroke-opacity="0.85"/><rect x="618.0" y="641.9" width="2.7" height="1.3" fill="#26a69a"/><line x1="623.7" y1="624.7" x2="623.7" y2="648.5" stroke="#ef5350" stroke-width="1.15" stroke-opacity="0.85"/><rect x="622.3" y="641.9" width="2.7" height="3.8" fill="#ef5350"/><line x1="628.0" y1="640.3" x2="628.0" y2="657.4" stroke="#ef5350" stroke-width="1.15" stroke-opacity="0.85"/><rect x="626.6" y="645.2" width="2.7" height="5.8" fill="#ef5350"/><line x1="632.3" y1="648.1" x2="632.3" y2="676.3" stroke="#ef5350" stroke-width="1.15" stroke-opacity="0.85"/><rect x="630.9" y="651.0" width="2.7" height="1.4" fill="#ef5350"/><line x1="636.6" y1="645.2" x2="636.6" y2="681.5" stroke="#ef5350" stroke-width="1.15" stroke-opacity="0.85"/><rect x="635.2" y="652.4" width="2.7" height="17.5" fill="#ef5350"/><line x1="640.9" y1="662.7" x2="640.9" y2="687.4" stroke="#ef5350" stroke-width="1.15" stroke-opacity="0.85"/><rect x="639.5" y="669.9" width="2.7" height="17.5" fill="#ef5350"/><line x1="645.2" y1="679.6" x2="645.2" y2="697.7" stroke="#ef5350" stroke-width="1.15" stroke-opacity="0.85"/><rect x="643.8" y="687.4" width="2.7" height="2.5" fill="#ef5350"/><line x1="649.5" y1="675.3" x2="649.5" y2="702.5" stroke="#ef5350" stroke-width="1.15" stroke-opacity="0.85"/><rect x="648.1" y="689.9" width="2.7" height="2.5" fill="#ef5350"/><line x1="653.8" y1="687.4" x2="653.8" y2="719.1" stroke="#ef5350" stroke-width="1.15" stroke-opacity="0.85"/><rect x="652.4" y="692.4" width="2.7" height="22.2" fill="#ef5350"/><line x1="658.1" y1="707.4" x2="658.1" y2="750.3" stroke="#ef5350" stroke-width="1.15" stroke-opacity="0.85"/><rect x="656.8" y="714.6" width="2.7" height="23.0" fill="#ef5350"/><line x1="662.4" y1="689.9" x2="662.4" y2="745.7" stroke="#26a69a" stroke-width="1.15" stroke-opacity="0.85"/><rect x="661.1" y="697.1" width="2.7" height="40.5" fill="#26a69a"/><line x1="666.7" y1="682.7" x2="666.7" y2="705.5" stroke="#26a69a" stroke-width="1.15" stroke-opacity="0.85"/><rect x="665.4" y="687.4" width="2.7" height="10.3" fill="#26a69a"/><line x1="671.0" y1="673.0" x2="671.0" y2="699.6" stroke="#26a69a" stroke-width="1.15" stroke-opacity="0.85"/><rect x="669.7" y="674.3" width="2.7" height="13.1" fill="#26a69a"/><line x1="675.3" y1="662.7" x2="675.3" y2="676.9" stroke="#26a69a" stroke-width="1.15" stroke-opacity="0.85"/><rect x="674.0" y="667.9" width="2.7" height="6.4" fill="#26a69a"/><line x1="679.6" y1="662.1" x2="679.6" y2="676.9" stroke="#26a69a" stroke-width="1.15" stroke-opacity="0.85"/><rect x="678.3" y="662.7" width="2.7" height="5.2" fill="#26a69a"/><line x1="683.9" y1="621.8" x2="683.9" y2="665.6" stroke="#26a69a" stroke-width="1.15" stroke-opacity="0.85"/><rect x="682.6" y="652.0" width="2.7" height="10.7" fill="#26a69a"/><line x1="688.2" y1="638.4" x2="688.2" y2="663.6" stroke="#26a69a" stroke-width="1.15" stroke-opacity="0.85"/><rect x="686.9" y="639.9" width="2.7" height="12.5" fill="#26a69a"/><line x1="692.5" y1="617.1" x2="692.5" y2="646.9" stroke="#26a69a" stroke-width="1.15" stroke-opacity="0.85"/><rect x="691.2" y="622.0" width="2.7" height="17.9" fill="#26a69a"/><line x1="696.8" y1="614.2" x2="696.8" y2="634.6" stroke="#26a69a" stroke-width="1.15" stroke-opacity="0.85"/><rect x="695.5" y="619.1" width="2.7" height="3.3" fill="#26a69a"/><line x1="701.1" y1="603.5" x2="701.1" y2="635.6" stroke="#26a69a" stroke-width="1.15" stroke-opacity="0.85"/><rect x="699.8" y="606.8" width="2.7" height="12.3" fill="#26a69a"/><line x1="705.5" y1="604.1" x2="705.5" y2="617.1" stroke="#ef5350" stroke-width="1.15" stroke-opacity="0.85"/><rect x="704.1" y="607.4" width="2.7" height="2.9" fill="#ef5350"/><line x1="709.8" y1="594.8" x2="709.8" y2="629.8" stroke="#ef5350" stroke-width="1.15" stroke-opacity="0.85"/><rect x="708.4" y="610.3" width="2.7" height="13.2" fill="#ef5350"/><line x1="714.1" y1="606.4" x2="714.1" y2="626.9" stroke="#26a69a" stroke-width="1.15" stroke-opacity="0.85"/><rect x="712.7" y="620.0" width="2.7" height="3.5" fill="#26a69a"/><line x1="718.4" y1="614.2" x2="718.4" y2="637.6" stroke="#ef5350" stroke-width="1.15" stroke-opacity="0.85"/><rect x="717.0" y="620.0" width="2.7" height="8.8" fill="#ef5350"/><line x1="722.7" y1="610.7" x2="722.7" y2="637.2" stroke="#26a69a" stroke-width="1.15" stroke-opacity="0.85"/><rect x="721.3" y="616.2" width="2.7" height="12.6" fill="#26a69a"/><line x1="727.0" y1="608.0" x2="727.0" y2="635.6" stroke="#26a69a" stroke-width="1.15" stroke-opacity="0.85"/><rect x="725.6" y="613.2" width="2.7" height="3.0" fill="#26a69a"/><line x1="731.3" y1="591.3" x2="731.3" y2="617.7" stroke="#26a69a" stroke-width="1.15" stroke-opacity="0.85"/><rect x="729.9" y="600.2" width="2.7" height="13.0" fill="#26a69a"/><line x1="735.6" y1="576.3" x2="735.6" y2="602.2" stroke="#26a69a" stroke-width="1.15" stroke-opacity="0.85"/><rect x="734.2" y="576.9" width="2.7" height="24.1" fill="#26a69a"/><line x1="739.9" y1="572.4" x2="739.9" y2="602.9" stroke="#ef5350" stroke-width="1.15" stroke-opacity="0.85"/><rect x="738.5" y="576.9" width="2.7" height="17.9" fill="#ef5350"/><line x1="744.2" y1="538.0" x2="744.2" y2="608.0" stroke="#26a69a" stroke-width="1.15" stroke-opacity="0.85"/><rect x="742.8" y="550.0" width="2.7" height="44.8" fill="#26a69a"/><line x1="748.5" y1="544.2" x2="748.5" y2="569.9" stroke="#ef5350" stroke-width="1.15" stroke-opacity="0.85"/><rect x="747.2" y="550.4" width="2.7" height="2.5" fill="#ef5350"/><line x1="752.8" y1="525.7" x2="752.8" y2="555.5" stroke="#26a69a" stroke-width="1.15" stroke-opacity="0.85"/><rect x="751.5" y="539.3" width="2.7" height="13.6" fill="#26a69a"/><line x1="757.1" y1="517.0" x2="757.1" y2="564.0" stroke="#ef5350" stroke-width="1.15" stroke-opacity="0.85"/><rect x="755.8" y="539.3" width="2.7" height="13.6" fill="#ef5350"/><line x1="761.4" y1="503.0" x2="761.4" y2="555.9" stroke="#26a69a" stroke-width="1.15" stroke-opacity="0.85"/><rect x="760.1" y="509.2" width="2.7" height="43.7" fill="#26a69a"/><line x1="765.7" y1="504.0" x2="765.7" y2="529.9" stroke="#ef5350" stroke-width="1.15" stroke-opacity="0.85"/><rect x="764.4" y="508.9" width="2.7" height="1.6" fill="#ef5350"/><line x1="770.0" y1="501.1" x2="770.0" y2="528.0" stroke="#26a69a" stroke-width="1.15" stroke-opacity="0.85"/><rect x="768.7" y="505.0" width="2.7" height="5.8" fill="#26a69a"/><line x1="774.3" y1="495.7" x2="774.3" y2="524.5" stroke="#ef5350" stroke-width="1.15" stroke-opacity="0.85"/><rect x="773.0" y="505.0" width="2.7" height="17.5" fill="#ef5350"/><line x1="778.6" y1="506.0" x2="778.6" y2="545.5" stroke="#ef5350" stroke-width="1.15" stroke-opacity="0.85"/><rect x="777.3" y="522.1" width="2.7" height="23.4" fill="#ef5350"/><line x1="782.9" y1="529.9" x2="782.9" y2="558.5" stroke="#ef5350" stroke-width="1.15" stroke-opacity="0.85"/><rect x="781.6" y="544.9" width="2.7" height="4.9" fill="#ef5350"/><line x1="787.2" y1="526.4" x2="787.2" y2="559.5" stroke="#26a69a" stroke-width="1.15" stroke-opacity="0.85"/><rect x="785.9" y="527.4" width="2.7" height="22.4" fill="#26a69a"/><line x1="791.6" y1="506.6" x2="791.6" y2="529.9" stroke="#26a69a" stroke-width="1.15" stroke-opacity="0.85"/><rect x="790.2" y="507.9" width="2.7" height="20.1" fill="#26a69a"/><line x1="795.9" y1="506.0" x2="795.9" y2="524.9" stroke="#ef5350" stroke-width="1.15" stroke-opacity="0.85"/><rect x="794.5" y="507.9" width="2.7" height="9.2" fill="#ef5350"/><line x1="800.2" y1="494.3" x2="800.2" y2="519.6" stroke="#26a69a" stroke-width="1.15" stroke-opacity="0.85"/><rect x="798.8" y="503.1" width="2.7" height="14.6" fill="#26a69a"/><line x1="804.5" y1="489.5" x2="804.5" y2="507.9" stroke="#26a69a" stroke-width="1.15" stroke-opacity="0.85"/><rect x="803.1" y="500.1" width="2.7" height="3.0" fill="#26a69a"/><line x1="808.8" y1="495.7" x2="808.8" y2="535.7" stroke="#ef5350" stroke-width="1.15" stroke-opacity="0.85"/><rect x="807.4" y="500.1" width="2.7" height="33.1" fill="#ef5350"/><line x1="813.1" y1="519.6" x2="813.1" y2="542.9" stroke="#26a69a" stroke-width="1.15" stroke-opacity="0.85"/><rect x="811.7" y="522.1" width="2.7" height="11.1" fill="#26a69a"/><line x1="817.4" y1="516.3" x2="817.4" y2="554.0" stroke="#ef5350" stroke-width="1.15" stroke-opacity="0.85"/><rect x="816.0" y="522.1" width="2.7" height="25.7" fill="#ef5350"/><line x1="821.7" y1="524.5" x2="821.7" y2="552.7" stroke="#26a69a" stroke-width="1.15" stroke-opacity="0.85"/><rect x="820.3" y="525.4" width="2.7" height="22.4" fill="#26a69a"/><line x1="826.0" y1="522.9" x2="826.0" y2="537.1" stroke="#ef5350" stroke-width="1.15" stroke-opacity="0.85"/><rect x="824.6" y="525.4" width="2.7" height="1.2" fill="#ef5350"/><line x1="830.3" y1="509.9" x2="830.3" y2="533.2" stroke="#ef5350" stroke-width="1.15" stroke-opacity="0.85"/><rect x="828.9" y="526.8" width="2.7" height="2.5" fill="#ef5350"/><line x1="834.6" y1="522.9" x2="834.6" y2="549.8" stroke="#ef5350" stroke-width="1.15" stroke-opacity="0.85"/><rect x="833.3" y="529.3" width="2.7" height="19.5" fill="#ef5350"/><line x1="838.9" y1="527.4" x2="838.9" y2="551.3" stroke="#26a69a" stroke-width="1.15" stroke-opacity="0.85"/><rect x="837.6" y="537.1" width="2.7" height="11.1" fill="#26a69a"/><line x1="843.2" y1="509.9" x2="843.2" y2="544.3" stroke="#26a69a" stroke-width="1.15" stroke-opacity="0.85"/><rect x="841.9" y="513.8" width="2.7" height="23.3" fill="#26a69a"/><line x1="847.5" y1="498.2" x2="847.5" y2="517.7" stroke="#26a69a" stroke-width="1.15" stroke-opacity="0.85"/><rect x="846.2" y="507.9" width="2.7" height="7.8" fill="#26a69a"/><line x1="851.8" y1="435.1" x2="851.8" y2="516.4" stroke="#26a69a" stroke-width="1.15" stroke-opacity="0.85"/><rect x="850.5" y="444.5" width="2.7" height="64.2" fill="#26a69a"/><line x1="856.1" y1="420.7" x2="856.1" y2="453.2" stroke="#ef5350" stroke-width="1.15" stroke-opacity="0.85"/><rect x="854.8" y="444.5" width="2.7" height="2.3" fill="#ef5350"/><line x1="860.4" y1="407.1" x2="860.4" y2="449.3" stroke="#26a69a" stroke-width="1.15" stroke-opacity="0.85"/><rect x="859.1" y="407.5" width="2.7" height="39.3" fill="#26a69a"/><line x1="864.7" y1="407.1" x2="864.7" y2="440.6" stroke="#ef5350" stroke-width="1.15" stroke-opacity="0.85"/><rect x="863.4" y="407.9" width="2.7" height="23.9" fill="#ef5350"/><line x1="869.0" y1="426.6" x2="869.0" y2="563.2" stroke="#ef5350" stroke-width="1.15" stroke-opacity="0.85"/><rect x="867.7" y="431.2" width="2.7" height="90.1" fill="#ef5350"/><line x1="873.4" y1="496.0" x2="873.4" y2="542.5" stroke="#26a69a" stroke-width="1.15" stroke-opacity="0.85"/><rect x="872.0" y="517.4" width="2.7" height="3.9" fill="#26a69a"/><line x1="877.7" y1="496.0" x2="877.7" y2="525.2" stroke="#26a69a" stroke-width="1.15" stroke-opacity="0.85"/><rect x="876.3" y="515.5" width="2.7" height="2.9" fill="#26a69a"/><line x1="882.0" y1="499.3" x2="882.0" y2="538.8" stroke="#ef5350" stroke-width="1.15" stroke-opacity="0.85"/><rect x="880.6" y="516.0" width="2.7" height="15.6" fill="#ef5350"/><line x1="886.3" y1="501.8" x2="886.3" y2="533.0" stroke="#26a69a" stroke-width="1.15" stroke-opacity="0.85"/><rect x="884.9" y="519.9" width="2.7" height="12.1" fill="#26a69a"/><line x1="890.6" y1="501.8" x2="890.6" y2="529.1" stroke="#26a69a" stroke-width="1.15" stroke-opacity="0.85"/><rect x="889.2" y="510.2" width="2.7" height="10.1" fill="#26a69a"/><line x1="894.9" y1="398.8" x2="894.9" y2="539.8" stroke="#ef5350" stroke-width="1.15" stroke-opacity="0.85"/><rect x="893.5" y="510.2" width="2.7" height="7.8" fill="#ef5350"/><line x1="899.2" y1="496.0" x2="899.2" y2="525.2" stroke="#26a69a" stroke-width="1.15" stroke-opacity="0.85"/><rect x="897.8" y="509.0" width="2.7" height="9.4" fill="#26a69a"/><line x1="903.5" y1="489.2" x2="903.5" y2="516.4" stroke="#26a69a" stroke-width="1.15" stroke-opacity="0.85"/><rect x="902.1" y="496.0" width="2.7" height="13.0" fill="#26a69a"/><line x1="907.8" y1="481.4" x2="907.8" y2="512.5" stroke="#ef5350" stroke-width="1.15" stroke-opacity="0.85"/><rect x="906.4" y="496.0" width="2.7" height="8.4" fill="#ef5350"/><line x1="912.1" y1="491.5" x2="912.1" y2="522.3" stroke="#ef5350" stroke-width="1.15" stroke-opacity="0.85"/><rect x="910.7" y="504.4" width="2.7" height="13.0" fill="#ef5350"/><line x1="916.4" y1="502.8" x2="916.4" y2="522.3" stroke="#26a69a" stroke-width="1.15" stroke-opacity="0.85"/><rect x="915.0" y="514.1" width="2.7" height="3.3" fill="#26a69a"/><line x1="920.7" y1="512.8" x2="920.7" y2="534.7" stroke="#ef5350" stroke-width="1.15" stroke-opacity="0.85"/><rect x="919.4" y="514.0" width="2.7" height="13.2" fill="#ef5350"/><line x1="925.0" y1="526.2" x2="925.0" y2="584.6" stroke="#ef5350" stroke-width="1.15" stroke-opacity="0.85"/><rect x="923.7" y="527.2" width="2.7" height="47.7" fill="#ef5350"/><line x1="929.3" y1="560.7" x2="929.3" y2="609.9" stroke="#ef5350" stroke-width="1.15" stroke-opacity="0.85"/><rect x="928.0" y="574.9" width="2.7" height="24.7" fill="#ef5350"/><line x1="933.6" y1="562.2" x2="933.6" y2="607.0" stroke="#26a69a" stroke-width="1.15" stroke-opacity="0.85"/><rect x="932.3" y="563.2" width="2.7" height="36.4" fill="#26a69a"/><line x1="937.9" y1="552.9" x2="937.9" y2="574.3" stroke="#26a69a" stroke-width="1.15" stroke-opacity="0.85"/><rect x="936.6" y="556.8" width="2.7" height="6.4" fill="#26a69a"/><line x1="942.2" y1="549.6" x2="942.2" y2="618.7" stroke="#ef5350" stroke-width="1.15" stroke-opacity="0.85"/><rect x="940.9" y="556.8" width="2.7" height="31.7" fill="#ef5350"/><line x1="946.5" y1="576.8" x2="946.5" y2="597.3" stroke="#ef5350" stroke-width="1.15" stroke-opacity="0.85"/><rect x="945.2" y="588.5" width="2.7" height="3.9" fill="#ef5350"/><line x1="950.8" y1="585.0" x2="950.8" y2="617.7" stroke="#ef5350" stroke-width="1.15" stroke-opacity="0.85"/><rect x="949.5" y="591.8" width="2.7" height="1.2" fill="#ef5350"/><line x1="955.1" y1="580.2" x2="955.1" y2="609.4" stroke="#ef5350" stroke-width="1.15" stroke-opacity="0.85"/><rect x="953.8" y="592.4" width="2.7" height="16.4" fill="#ef5350"/><line x1="959.4" y1="597.7" x2="959.4" y2="624.9" stroke="#ef5350" stroke-width="1.15" stroke-opacity="0.85"/><rect x="958.1" y="608.8" width="2.7" height="15.1" fill="#ef5350"/><line x1="963.8" y1="593.8" x2="963.8" y2="624.9" stroke="#26a69a" stroke-width="1.15" stroke-opacity="0.85"/><rect x="962.4" y="609.4" width="2.7" height="14.5" fill="#26a69a"/><line x1="968.1" y1="582.1" x2="968.1" y2="611.9" stroke="#26a69a" stroke-width="1.15" stroke-opacity="0.85"/><rect x="966.7" y="585.0" width="2.7" height="24.4" fill="#26a69a"/><line x1="972.4" y1="545.7" x2="972.4" y2="591.3" stroke="#26a69a" stroke-width="1.15" stroke-opacity="0.85"/><rect x="971.0" y="550.0" width="2.7" height="35.4" fill="#26a69a"/><line x1="976.7" y1="534.5" x2="976.7" y2="554.3" stroke="#26a69a" stroke-width="1.15" stroke-opacity="0.85"/><rect x="975.3" y="543.8" width="2.7" height="6.2" fill="#26a69a"/><line x1="981.0" y1="528.2" x2="981.0" y2="551.6" stroke="#26a69a" stroke-width="1.15" stroke-opacity="0.85"/><rect x="979.6" y="539.9" width="2.7" height="4.3" fill="#26a69a"/><line x1="985.3" y1="539.3" x2="985.3" y2="562.7" stroke="#ef5350" stroke-width="1.15" stroke-opacity="0.85"/><rect x="983.9" y="539.9" width="2.7" height="8.2" fill="#ef5350"/><line x1="989.6" y1="529.6" x2="989.6" y2="549.1" stroke="#26a69a" stroke-width="1.15" stroke-opacity="0.85"/><rect x="988.2" y="531.5" width="2.7" height="16.6" fill="#26a69a"/><line x1="993.9" y1="509.2" x2="993.9" y2="556.3" stroke="#26a69a" stroke-width="1.15" stroke-opacity="0.85"/><rect x="992.5" y="520.5" width="2.7" height="11.0" fill="#26a69a"/><line x1="998.2" y1="499.8" x2="998.2" y2="531.5" stroke="#26a69a" stroke-width="1.15" stroke-opacity="0.85"/><rect x="996.8" y="518.9" width="2.7" height="2.3" fill="#26a69a"/><line x1="1002.5" y1="505.3" x2="1002.5" y2="529.0" stroke="#ef5350" stroke-width="1.15" stroke-opacity="0.85"/><rect x="1001.1" y="518.9" width="2.7" height="7.8" fill="#ef5350"/><line x1="1006.8" y1="510.7" x2="1006.8" y2="528.6" stroke="#26a69a" stroke-width="1.15" stroke-opacity="0.85"/><rect x="1005.5" y="516.0" width="2.7" height="10.7" fill="#26a69a"/><line x1="1011.1" y1="507.2" x2="1011.1" y2="531.0" stroke="#ef5350" stroke-width="1.15" stroke-opacity="0.85"/><rect x="1009.8" y="516.0" width="2.7" height="12.6" fill="#ef5350"/><line x1="1015.4" y1="504.3" x2="1015.4" y2="534.5" stroke="#26a69a" stroke-width="1.15" stroke-opacity="0.85"/><rect x="1014.1" y="519.1" width="2.7" height="10.4" fill="#26a69a"/><line x1="1019.7" y1="518.5" x2="1019.7" y2="549.5" stroke="#ef5350" stroke-width="1.15" stroke-opacity="0.85"/><rect x="1018.4" y="519.0" width="2.7" height="15.5" fill="#ef5350"/><line x1="1024.0" y1="516.9" x2="1024.0" y2="546.5" stroke="#26a69a" stroke-width="1.15" stroke-opacity="0.85"/><rect x="1022.7" y="521.7" width="2.7" height="12.8" fill="#26a69a"/><line x1="1028.3" y1="500.1" x2="1028.3" y2="523.8" stroke="#26a69a" stroke-width="1.15" stroke-opacity="0.85"/><rect x="1027.0" y="512.9" width="2.7" height="8.8" fill="#26a69a"/><line x1="1032.6" y1="486.0" x2="1032.6" y2="524.4" stroke="#26a69a" stroke-width="1.15" stroke-opacity="0.85"/><rect x="1031.3" y="494.0" width="2.7" height="19.7" fill="#26a69a"/><line x1="1036.9" y1="487.0" x2="1036.9" y2="504.6" stroke="#ef5350" stroke-width="1.15" stroke-opacity="0.85"/><rect x="1035.6" y="494.0" width="2.7" height="9.3" fill="#ef5350"/><line x1="1041.2" y1="498.2" x2="1041.2" y2="525.7" stroke="#ef5350" stroke-width="1.15" stroke-opacity="0.85"/><rect x="1039.9" y="503.0" width="2.7" height="4.8" fill="#ef5350"/><line x1="1045.5" y1="498.5" x2="1045.5" y2="519.6" stroke="#26a69a" stroke-width="1.15" stroke-opacity="0.85"/><rect x="1044.2" y="503.3" width="2.7" height="4.0" fill="#26a69a"/><line x1="1049.9" y1="490.2" x2="1049.9" y2="508.4" stroke="#26a69a" stroke-width="1.15" stroke-opacity="0.85"/><rect x="1048.5" y="496.1" width="2.7" height="7.5" fill="#26a69a"/><line x1="1054.2" y1="451.7" x2="1054.2" y2="503.0" stroke="#26a69a" stroke-width="1.15" stroke-opacity="0.85"/><rect x="1052.8" y="456.0" width="2.7" height="40.6" fill="#26a69a"/><line x1="1058.5" y1="440.8" x2="1058.5" y2="481.7" stroke="#ef5350" stroke-width="1.15" stroke-opacity="0.85"/><rect x="1057.1" y="456.0" width="2.7" height="22.5" fill="#ef5350"/><line x1="1062.8" y1="468.9" x2="1062.8" y2="497.7" stroke="#ef5350" stroke-width="1.15" stroke-opacity="0.85"/><rect x="1061.4" y="478.5" width="2.7" height="12.0" fill="#ef5350"/><line x1="1067.1" y1="475.7" x2="1067.1" y2="495.3" stroke="#26a69a" stroke-width="1.15" stroke-opacity="0.85"/><rect x="1065.7" y="480.1" width="2.7" height="10.4" fill="#26a69a"/><line x1="1071.4" y1="472.1" x2="1071.4" y2="503.3" stroke="#ef5350" stroke-width="1.15" stroke-opacity="0.85"/><rect x="1070.0" y="480.1" width="2.7" height="12.0" fill="#ef5350"/><line x1="1075.7" y1="477.3" x2="1075.7" y2="494.0" stroke="#26a69a" stroke-width="1.15" stroke-opacity="0.85"/><rect x="1074.3" y="481.2" width="2.7" height="11.7" fill="#26a69a"/><line x1="1080.0" y1="472.9" x2="1080.0" y2="491.8" stroke="#26a69a" stroke-width="1.15" stroke-opacity="0.85"/><rect x="1078.6" y="476.9" width="2.7" height="4.8" fill="#26a69a"/><line x1="1084.3" y1="460.8" x2="1084.3" y2="529.2" stroke="#ef5350" stroke-width="1.15" stroke-opacity="0.85"/><rect x="1082.9" y="476.9" width="2.7" height="41.6" fill="#ef5350"/><line x1="1088.6" y1="483.8" x2="1088.6" y2="521.7" stroke="#26a69a" stroke-width="1.15" stroke-opacity="0.85"/><rect x="1087.2" y="494.5" width="2.7" height="23.5" fill="#26a69a"/><line x1="1092.9" y1="474.5" x2="1092.9" y2="496.6" stroke="#26a69a" stroke-width="1.15" stroke-opacity="0.85"/><rect x="1091.6" y="479.3" width="2.7" height="15.2" fill="#26a69a"/><line x1="1097.2" y1="477.3" x2="1097.2" y2="500.4" stroke="#ef5350" stroke-width="1.15" stroke-opacity="0.85"/><rect x="1095.9" y="478.9" width="2.7" height="13.2" fill="#ef5350"/><line x1="1101.5" y1="481.2" x2="1101.5" y2="500.4" stroke="#26a69a" stroke-width="1.15" stroke-opacity="0.85"/><rect x="1100.2" y="489.2" width="2.7" height="3.7" fill="#26a69a"/><line x1="1105.8" y1="469.0" x2="1105.8" y2="497.3" stroke="#26a69a" stroke-width="1.15" stroke-opacity="0.85"/><rect x="1104.5" y="477.0" width="2.7" height="12.8" fill="#26a69a"/><line x1="1110.1" y1="461.0" x2="1110.1" y2="480.5" stroke="#26a69a" stroke-width="1.15" stroke-opacity="0.85"/><rect x="1108.8" y="469.6" width="2.7" height="7.4" fill="#26a69a"/><line x1="1114.4" y1="452.5" x2="1114.4" y2="477.0" stroke="#26a69a" stroke-width="1.15" stroke-opacity="0.85"/><rect x="1113.1" y="456.2" width="2.7" height="13.4" fill="#26a69a"/><line x1="1118.7" y1="456.2" x2="1118.7" y2="480.5" stroke="#ef5350" stroke-width="1.15" stroke-opacity="0.85"/><rect x="1117.4" y="456.5" width="2.7" height="9.3" fill="#ef5350"/><line x1="1123.0" y1="464.8" x2="1123.0" y2="478.9" stroke="#ef5350" stroke-width="1.15" stroke-opacity="0.85"/><rect x="1121.7" y="465.8" width="2.7" height="7.5" fill="#ef5350"/><line x1="1127.3" y1="469.0" x2="1127.3" y2="491.4" stroke="#ef5350" stroke-width="1.15" stroke-opacity="0.85"/><rect x="1126.0" y="473.3" width="2.7" height="3.2" fill="#ef5350"/><line x1="1131.6" y1="466.9" x2="1131.6" y2="477.6" stroke="#26a69a" stroke-width="1.15" stroke-opacity="0.85"/><rect x="1130.3" y="467.4" width="2.7" height="9.6" fill="#26a69a"/><line x1="1136.0" y1="412.4" x2="1136.0" y2="467.4" stroke="#26a69a" stroke-width="1.15" stroke-opacity="0.85"/><rect x="1134.6" y="413.2" width="2.7" height="54.2" fill="#26a69a"/><line x1="1140.3" y1="381.7" x2="1140.3" y2="418.5" stroke="#26a69a" stroke-width="1.15" stroke-opacity="0.85"/><rect x="1138.9" y="389.8" width="2.7" height="23.8" fill="#26a69a"/><rect x="8.8" y="23.6" width="1518.2" height="819.0" fill="none" stroke="#e0e3eb" stroke-width="1.4"/><line x1="1467.5" y1="23.6" x2="1467.5" y2="842.6" stroke="#e0e3eb" stroke-width="1.2"/><line x1="8.8" y1="818.5" x2="1527" y2="818.5" stroke="#e0e3eb" stroke-width="1.2"/><text x="1476.0" y="37.3" font-size="11" fill="#383b45" textLength="32.6" lengthAdjust="spacingAndGlyphs">560.00</text><text x="1476.0" y="68.9" font-size="11" fill="#383b45" textLength="32.6" lengthAdjust="spacingAndGlyphs">520.00</text><text x="1476.0" y="102.9" font-size="11" fill="#383b45" textLength="32.6" lengthAdjust="spacingAndGlyphs">480.00</text><text x="1476.0" y="140.0" font-size="11" fill="#383b45" textLength="32.6" lengthAdjust="spacingAndGlyphs">440.00</text><text x="1476.0" y="180.6" font-size="11" fill="#383b45" textLength="32.6" lengthAdjust="spacingAndGlyphs">400.00</text><text x="1476.0" y="225.5" font-size="11" fill="#383b45" textLength="32.6" lengthAdjust="spacingAndGlyphs">360.00</text><text x="1476.0" y="262.5" font-size="11" fill="#383b45" textLength="32.6" lengthAdjust="spacingAndGlyphs">330.00</text><text x="1476.0" y="303.1" font-size="11" fill="#383b45" textLength="32.6" lengthAdjust="spacingAndGlyphs">300.00</text><text x="1476.0" y="332.5" font-size="11" fill="#383b45" textLength="32.6" lengthAdjust="spacingAndGlyphs">280.00</text><text x="1476.0" y="364.1" font-size="11" fill="#383b45" textLength="32.6" lengthAdjust="spacingAndGlyphs">260.00</text><text x="1476.0" y="435.2" font-size="11" fill="#383b45" textLength="32.6" lengthAdjust="spacingAndGlyphs">220.00</text><text x="1476.0" y="465.3" font-size="11" fill="#383b45" textLength="32.6" lengthAdjust="spacingAndGlyphs">205.00</text><text x="1476.0" y="589.9" font-size="11" fill="#383b45" textLength="32.6" lengthAdjust="spacingAndGlyphs">153.00</text><text x="1476.0" y="618.7" font-size="11" fill="#383b45" textLength="32.6" lengthAdjust="spacingAndGlyphs">143.00</text><text x="1476.0" y="649.6" font-size="11" fill="#383b45" textLength="32.6" lengthAdjust="spacingAndGlyphs">133.00</text><text x="1476.0" y="682.8" font-size="11" fill="#383b45" textLength="32.6" lengthAdjust="spacingAndGlyphs">123.00</text><text x="1476.0" y="711.5" font-size="11" fill="#383b45" textLength="32.6" lengthAdjust="spacingAndGlyphs">115.00</text><text x="1476.0" y="738.2" font-size="11" fill="#383b45" textLength="32.6" lengthAdjust="spacingAndGlyphs">108.00</text><text x="1476.0" y="766.8" font-size="11" fill="#383b45" textLength="32.6" lengthAdjust="spacingAndGlyphs">101.00</text><text x="1476.0" y="795.1" font-size="11" fill="#383b45" textLength="27.4" lengthAdjust="spacingAndGlyphs">94.50</text><rect x="1485.5" y="29.8" width="23.8" height="15.3" rx="2.5" fill="#fff" stroke="#e0e3eb" stroke-width="1"/><text x="1497.1" y="41.6" font-size="11.5" fill="#383b45" textLength="16.7" lengthAdjust="spacingAndGlyphs" text-anchor="middle">USD</text><path d="M1467.2 410.4 h45.7 a1.5 1.5 0 0 1 1.5 1.5 v11.8 a1.5 1.5 0 0 1 -1.5 1.5 h-45.7 z" fill="#000"/><text x="1477.3" y="422.0" font-size="11" fill="#fff" textLength="32.2" lengthAdjust="spacingAndGlyphs" font-weight="bold">232.94</text><path d="M1467.2 487.0 h45.7 a1.5 1.5 0 0 1 1.5 1.5 v11.8 a1.5 1.5 0 0 1 -1.5 1.5 h-45.7 z" fill="#000"/><text x="1477.3" y="498.6" font-size="11" fill="#fff" textLength="32.2" lengthAdjust="spacingAndGlyphs" font-weight="bold">189.75</text><path d="M1467.2 514.7 h45.7 a1.5 1.5 0 0 1 1.5 1.5 v11.8 a1.5 1.5 0 0 1 -1.5 1.5 h-45.7 z" fill="#000"/><text x="1477.3" y="526.3" font-size="11" fill="#fff" textLength="32.2" lengthAdjust="spacingAndGlyphs" font-weight="bold">177.90</text><path d="M1467.2 533.0 h45.7 a1.5 1.5 0 0 1 1.5 1.5 v11.8 a1.5 1.5 0 0 1 -1.5 1.5 h-45.7 z" fill="#000"/><text x="1477.3" y="544.6" font-size="11" fill="#fff" textLength="32.2" lengthAdjust="spacingAndGlyphs" font-weight="bold">170.61</text><path d="M1467.2 549.3 h45.7 a1.5 1.5 0 0 1 1.5 1.5 v11.8 a1.5 1.5 0 0 1 -1.5 1.5 h-45.7 z" fill="#000"/><text x="1477.3" y="560.9" font-size="11" fill="#fff" textLength="32.2" lengthAdjust="spacingAndGlyphs" font-weight="bold">163.89</text><path d="M1467.2 592.1 h45.7 a1.5 1.5 0 0 1 1.5 1.5 v11.8 a1.5 1.5 0 0 1 -1.5 1.5 h-45.7 z" fill="#000"/><text x="1477.3" y="603.7" font-size="11" fill="#fff" textLength="32.2" lengthAdjust="spacingAndGlyphs" font-weight="bold">148.41</text><path d="M1467.2 617.6 h45.7 a1.5 1.5 0 0 1 1.5 1.5 v11.8 a1.5 1.5 0 0 1 -1.5 1.5 h-45.7 z" fill="#000"/><text x="1477.3" y="629.2" font-size="11" fill="#fff" textLength="32.2" lengthAdjust="spacingAndGlyphs" font-weight="bold">139.80</text><path d="M1467.2 684.0 h45.7 a1.5 1.5 0 0 1 1.5 1.5 v11.8 a1.5 1.5 0 0 1 -1.5 1.5 h-45.7 z" fill="#000"/><text x="1477.3" y="695.6" font-size="11" fill="#fff" textLength="32.2" lengthAdjust="spacingAndGlyphs" font-weight="bold">119.64</text><path d="M1467.2 382.2 h55.3 a1.5 1.5 0 0 1 1.5 1.5 v24.5 a1.5 1.5 0 0 1 -1.5 1.5 h-55.3 z" fill="#26a69a"/><text x="1476.8" y="394.2" font-size="11" fill="#fff" textLength="32.3" lengthAdjust="spacingAndGlyphs" font-weight="bold">242.52</text><text x="1476.8" y="406.9" font-size="11" fill="#d4eeeb" textLength="41.9" lengthAdjust="spacingAndGlyphs">22:08:36</text><text x="50.8" y="835.3" font-size="11" fill="#383b45" text-anchor="middle">Mar</text><text x="184.4" y="835.3" font-size="11" fill="#383b45" text-anchor="middle">Apr</text><text x="313.5" y="835.3" font-size="11" fill="#383b45" text-anchor="middle">May</text><text x="447.0" y="835.3" font-size="11" fill="#383b45" text-anchor="middle">Jun</text><text x="576.3" y="835.3" font-size="11" fill="#383b45" text-anchor="middle">Jul</text><text x="710.0" y="835.3" font-size="11" fill="#383b45" text-anchor="middle">Aug</text><text x="843.3" y="835.3" font-size="11" fill="#383b45" text-anchor="middle">Sep</text><text x="972.4" y="835.3" font-size="11" fill="#383b45" text-anchor="middle">Oct</text><text x="1105.9" y="835.3" font-size="11" fill="#383b45" text-anchor="middle">Nov</text><text x="1234.6" y="835.3" font-size="11" fill="#383b45" text-anchor="middle">Dec</text><text x="1368.5" y="835.3" font-size="11" fill="#383b45" font-weight="bold" text-anchor="middle">2022</text><text x="9.1" y="17.5" font-size="11" fill="#383b45" textLength="341.0" lengthAdjust="spacingAndGlyphs">CryptoFXStreet published on TradingView.com, Nov 09, 2021 01:51 UTC</text><text x="16.4" y="41.4" font-size="11" fill="#383b45" textLength="170.3" lengthAdjust="spacingAndGlyphs">Litecoin Perpetual Futures, 1D, FTX</text><text x="193.8" y="41.4" font-size="11" fill="#383b45">O</text><text x="201.0" y="41.4" font-size="11" fill="#26a69a" textLength="31.0" lengthAdjust="spacingAndGlyphs">229.35</text><text x="239.0" y="41.4" font-size="11" fill="#383b45">H</text><text x="246.0" y="41.4" font-size="11" fill="#26a69a" textLength="31.5" lengthAdjust="spacingAndGlyphs">247.20</text><text x="284.4" y="41.4" font-size="11" fill="#383b45">L</text><text x="289.7" y="41.4" font-size="11" fill="#26a69a" textLength="31.3" lengthAdjust="spacingAndGlyphs">226.73</text><text x="328.0" y="41.4" font-size="11" fill="#383b45">C</text><text x="335.0" y="41.4" font-size="11" fill="#26a69a" textLength="31.0" lengthAdjust="spacingAndGlyphs">242.52</text><text x="373.4" y="41.4" font-size="11" fill="#26a69a" textLength="75.0" lengthAdjust="spacingAndGlyphs">+13.17 (+5.74%)</text><path d="M8.8 853.5 H15.6 V862.1 H11.8 V856.7 H8.8 Z" fill="#131722"/><circle cx="18.9" cy="855.3" r="1.7" fill="#131722"/><path d="M21.6 853.5 H26.0 L22.9 862.1 H19.2 Z" fill="#131722"/><text x="29.9" y="862.6" font-size="12" fill="#383b45" textLength="62.5" lengthAdjust="spacingAndGlyphs">TradingView</text></svg>
</body></html>
